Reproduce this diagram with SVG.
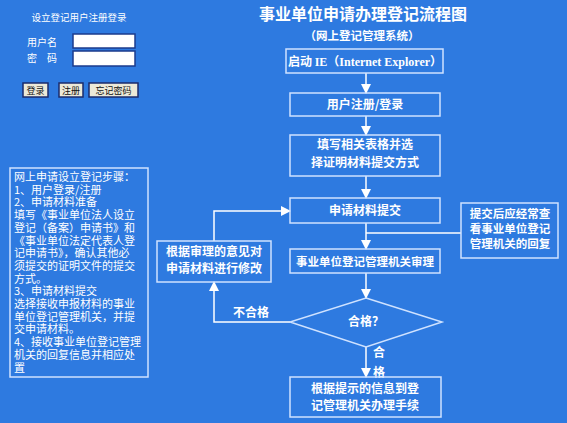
<svg xmlns="http://www.w3.org/2000/svg" width="567" height="423" viewBox="0 0 567 423">
<defs>
<marker id="ah" markerWidth="10" markerHeight="10" refX="9" refY="5" orient="auto" markerUnits="userSpaceOnUse">
<path d="M0,0 L10,5 L0,10 z" fill="#ffffff"/>
</marker>
<style>
.box{fill:none;stroke:#cfe2ff;stroke-width:1.5}
.t{font-family:"Noto Sans CJK SC","Liberation Sans",sans-serif;font-weight:bold;font-size:12px;fill:#ffffff;text-anchor:middle}
.n{font-family:"Noto Sans CJK SC","Liberation Sans",sans-serif;font-size:11px;fill:#ffffff}
.c{fill:none;stroke:#ffffff;stroke-width:1.5}
.inp{fill:#ffffff;stroke:#1b3b8c;stroke-width:1.5}
.btn{fill:#ece9d8;stroke:#1b2b6b;stroke-width:1.5}
.bt{font-family:"Noto Sans CJK SC","Liberation Sans",sans-serif;font-size:9px;fill:#111111;text-anchor:middle}
</style>
</defs>
<rect width="567" height="423" fill="#2e7ae0"/>

<g id="login">
<text class="n" x="79" y="20.5" text-anchor="middle" style="font-size:9.5px">设立登记用户注册登录</text>
<text class="n" x="27" y="45.5" style="font-size:10px">用户名</text>
<text class="n" x="27" y="61.5" style="font-size:10px">密　码</text>
<rect class="inp" x="73" y="34" width="62" height="14"/>
<rect class="inp" x="73" y="51" width="62" height="15"/>
<rect class="btn" x="23" y="83" width="25" height="14"/>
<text class="bt" x="35.5" y="93.5">登录</text>
<rect class="btn" x="59" y="83" width="24" height="14"/>
<text class="bt" x="71" y="93.5">注册</text>
<rect class="btn" x="89" y="83" width="49" height="14"/>
<text class="bt" x="113.5" y="93.5">忘记密码</text>
</g>

<g id="title">
<text class="t" x="363" y="20" style="font-size:16px">事业单位申请办理登记流程图</text>
<text class="t" x="362" y="39.5" style="font-size:11.5px">（网上登记管理系统）</text>
</g>

<g id="steps">
<rect class="box" x="10" y="168" width="138" height="209"/>
<text class="n" x="14" y="181">网上申请设立登记步骤：</text>
<text class="n" x="14" y="193.7">1、用户登录/注册</text>
<text class="n" x="14" y="206.4">2、申请材料准备</text>
<text class="n" x="14" y="219.1">填写《事业单位法人设立</text>
<text class="n" x="14" y="231.8">登记（备案）申请书》和</text>
<text class="n" x="14" y="244.5">《事业单位法定代表人登</text>
<text class="n" x="14" y="257.2">记申请书》，确认其他必</text>
<text class="n" x="14" y="269.9">须提交的证明文件的提交</text>
<text class="n" x="14" y="282.6">方式。</text>
<text class="n" x="14" y="295.3">3、申请材料提交</text>
<text class="n" x="14" y="308">选择接收申报材料的事业</text>
<text class="n" x="14" y="320.7">单位登记管理机关，并提</text>
<text class="n" x="14" y="333.4">交申请材料。</text>
<text class="n" x="14" y="346.1">4、接收事业单位登记管理</text>
<text class="n" x="14" y="358.8">机关的回复信息并相应处</text>
<text class="n" x="14" y="371.5">置</text>
</g>

<g id="connectors">
<line class="c" x1="366" y1="73" x2="366" y2="93" marker-end="url(#ah)"/>
<line class="c" x1="366" y1="116" x2="366" y2="135" marker-end="url(#ah)"/>
<line class="c" x1="366" y1="176" x2="366" y2="198" marker-end="url(#ah)"/>
<line class="c" x1="366" y1="223" x2="366" y2="249" marker-end="url(#ah)"/>
<polyline class="c" points="366,233 461,233"/>
<line class="c" x1="366" y1="273" x2="366" y2="298" marker-end="url(#ah)"/>
<line class="c" x1="366" y1="347" x2="366" y2="377" marker-end="url(#ah)"/>
<polyline class="c" points="290,322 214,322 214,282" marker-end="url(#ah)"/>
<polyline class="c" points="214,241 214,211 290,211" marker-end="url(#ah)"/>
<text class="t" x="251" y="317">不合格</text>
<text class="t" x="379" y="357">合</text>
<text class="t" x="379" y="377">格</text>
</g>

<g id="n1">
<rect class="box" x="286" y="49" width="157" height="24"/>
<text class="t" x="365" y="66"><tspan>启动 </tspan><tspan style="font-family:'Liberation Serif',serif">IE</tspan><tspan>（</tspan><tspan style="font-family:'Liberation Serif',serif">Internet Explorer</tspan><tspan>）</tspan></text>
</g>
<g id="n2">
<rect class="box" x="290" y="93" width="150" height="23"/>
<text class="t" x="365" y="109">用户注册/登录</text>
</g>
<g id="n3">
<rect class="box" x="290" y="135" width="150" height="41"/>
<text class="t" x="365" y="149">填写相关表格并选</text>
<text class="t" x="365" y="167">择证明材料提交方式</text>
</g>
<g id="n4">
<rect class="box" x="290" y="198" width="150" height="25"/>
<text class="t" x="365" y="215">申请材料提交</text>
</g>
<g id="n5">
<rect class="box" x="290" y="249" width="150" height="24"/>
<text class="t" x="365" y="265.5" style="font-size:11.5px">事业单位登记管理机关审理</text>
</g>
<g id="n6">
<polygon class="box" points="366,298 442,322 366,347 290,322"/>
<text class="t" x="366" y="326">合格？</text>
</g>
<g id="n7">
<rect class="box" x="290" y="377" width="151" height="40"/>
<text class="t" x="365" y="393">根据提示的信息到登</text>
<text class="t" x="365" y="410">记管理机关办理手续</text>
</g>
<g id="n8">
<rect class="box" x="157" y="241" width="114" height="41"/>
<text class="t" x="214" y="256">根据审理的意见对</text>
<text class="t" x="214" y="273">申请材料进行修改</text>
</g>
<g id="n9">
<rect class="box" x="461" y="203" width="97" height="55"/>
<text class="t" x="510" y="218" style="font-size:11.5px">提交后应经常查</text>
<text class="t" x="510" y="233" style="font-size:11.5px">看事业单位登记</text>
<text class="t" x="510" y="248" style="font-size:11.5px">管理机关的回复</text>
</g>
</svg>
